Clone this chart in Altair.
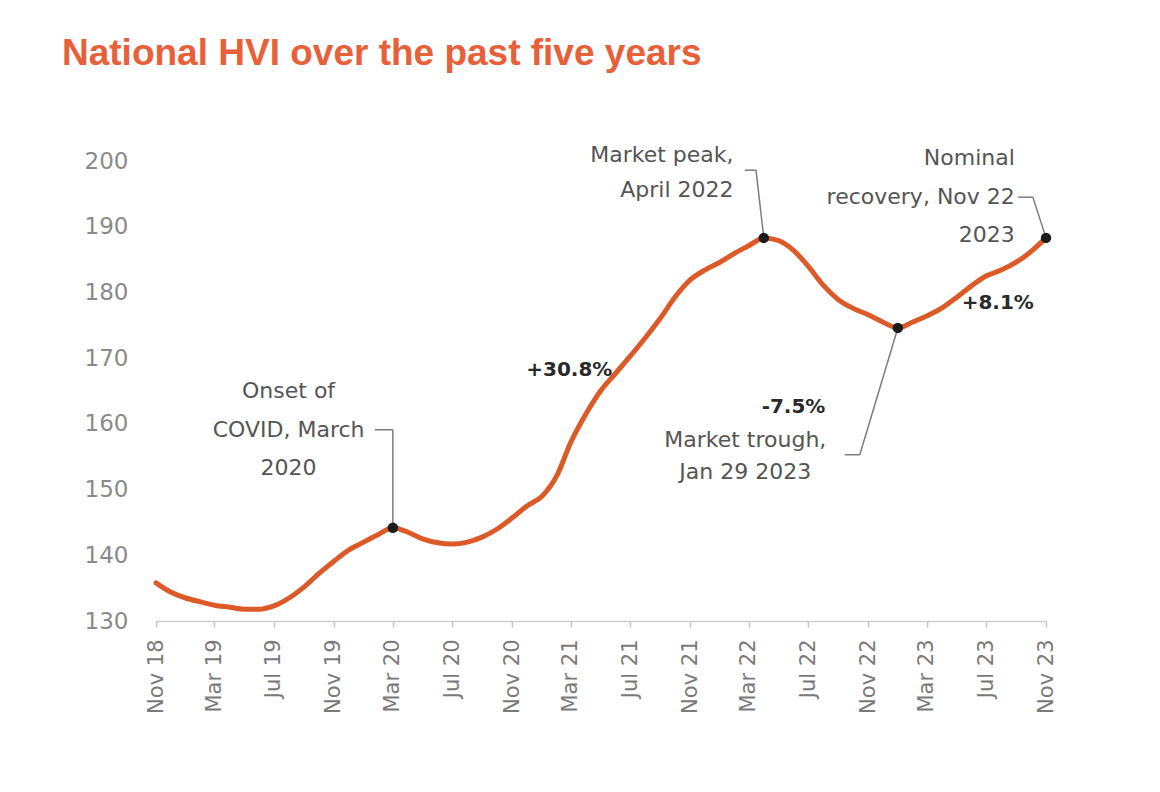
import altair as alt
import pandas as pd

TITLE = "National HVI over the past five years"

# Monthly index values, Nov 2018 - Nov 2023
MONTHS = pd.date_range("2018-11-01", "2023-11-01", freq="MS").strftime("%Y-%m-%dT00:00:00").tolist()
HVI = [135.8, 134.4, 133.5, 132.9, 132.4, 132.1, 131.8, 131.8, 132.3, 133.5, 135.2, 137.2, 139.1,
       140.8, 142.0, 143.2, 144.2, 143.5, 142.5, 141.9, 141.7, 142.0, 142.8, 144.0, 145.7,
       147.5, 149.0, 152.2, 157.2, 161.5, 165.0, 167.7, 170.3, 173.1, 176.1, 179.3, 181.9,
       183.4, 184.6, 186.0, 187.1, 188.3, 187.9, 186.4, 184.0, 181.1, 178.9, 177.6, 176.6,
       175.5, 174.6, 175.5, 176.4, 177.6, 179.2, 181.0, 182.5, 183.4, 184.6, 186.2, 188.3]

Y_TICKS = [130, 140, 150, 160, 170, 180, 190, 200]
X_TICK_LABELS = ["Nov 18", "Mar 19", "Jul 19", "Nov 19", "Mar 20", "Jul 20", "Nov 20", "Mar 21",
                 "Jul 21", "Nov 21", "Mar 22", "Jul 22", "Nov 22", "Mar 23", "Jul 23", "Nov 23"]

MARKED_MONTHS = ["2020-03", "2022-04", "2023-01", "2023-11"]

# Annotation lines (anchored in data coordinates)
NOTE_CENTER_TEXT = ["Onset of", "COVID, March", "2020", "Market trough,", "Jan 29 2023"]
NOTE_CENTER_X = ["2019-07-31", "2019-07-31", "2019-07-31", "2022-02-22", "2022-02-22"]
NOTE_CENTER_Y = [165.0, 159.1, 153.3, 157.5, 152.7]

NOTE_RIGHT_TEXT = ["Market peak,", "April 2022", "Nominal", "recovery, Nov 22", "2023"]
NOTE_RIGHT_X = ["2022-01-29", "2022-01-29", "2023-08-29", "2023-08-29", "2023-08-29"]
NOTE_RIGHT_Y = [200.9, 195.6, 200.5, 194.5, 188.7]

CHANGE_TEXT = ["+30.8%", "-7.5%", "+8.1%"]
CHANGE_X = ["2021-02-26", "2022-06-01", "2023-07-25"]
CHANGE_Y = [168.2, 162.6, 178.4]

LEADER_X = ["2020-01-24", "2020-03-01", "2022-02-21", "2022-03-16", "2023-09-05", "2023-10-05", "2022-09-14", "2022-10-15"]
LEADER_X2 = ["2020-03-01", "2020-03-01", "2022-03-16", "2022-04-01", "2023-10-05", "2023-11-01", "2022-10-15", "2023-01-01"]
LEADER_Y = [159.1, 159.1, 198.6, 198.6, 194.5, 194.5, 155.3, 155.3]
LEADER_Y2 = [159.1, 144.2, 198.6, 188.3, 194.5, 188.3, 155.3, 174.6]

ORANGE = "#DC5A27"
TITLE_COLOR = "#E8603A"
FONT = "DejaVu Sans"

T = "T00:00:00"
df = pd.DataFrame({"month": MONTHS, "hvi": HVI})
df["key"] = df["month"].str[:7]
dots_df = df[df["key"].isin(MARKED_MONTHS)]

center_df = pd.DataFrame({"month": [d + T for d in NOTE_CENTER_X], "hvi": NOTE_CENTER_Y, "label": NOTE_CENTER_TEXT})
right_df = pd.DataFrame({"month": [d + T for d in NOTE_RIGHT_X], "hvi": NOTE_RIGHT_Y, "label": NOTE_RIGHT_TEXT})
change_df = pd.DataFrame({"month": [d + T for d in CHANGE_X], "hvi": CHANGE_Y, "label": CHANGE_TEXT})
leader_df = pd.DataFrame({"month": [d + T for d in LEADER_X], "month2": [d + T for d in LEADER_X2],
                          "hvi": LEADER_Y, "hvi2": LEADER_Y2})

tick_dates = [pd.to_datetime(l, format="%b %y") for l in X_TICK_LABELS]
tick_vals = [alt.DateTime(year=d.year, month=d.month, date=1) for d in tick_dates]
x_dom = [alt.DateTime(year=2018, month=11, date=1), alt.DateTime(year=2023, month=11, date=1)]

x_scale = alt.Scale(domain=x_dom)
y_scale = alt.Scale(domain=[130, 200], nice=False, zero=False)

x_axis = alt.Axis(values=tick_vals, format="%b %y", labelAngle=270, labelFont=FONT, labelFontSize=21,
                  labelColor="#7a7a7a", labelPadding=12, tickSize=6, tickColor="#c4c4c4", tickWidth=1.5,
                  domainColor="#cfcfcf", domainWidth=1.5, grid=False, title=None)
y_axis = alt.Axis(values=Y_TICKS, labelFont=FONT, labelFontSize=23, labelColor="#8a8a8a", labelPadding=28,
                  ticks=False, domain=False, grid=False, title=None)

X = alt.X("month:T", scale=x_scale, axis=x_axis, title=None)
Y = alt.Y("hvi:Q", scale=y_scale, axis=y_axis, title=None)
Xs = alt.X("month:T", scale=x_scale, title=None)
Ys = alt.Y("hvi:Q", scale=y_scale, title=None)

line = alt.Chart(df).mark_line(color=ORANGE, strokeWidth=5, interpolate="monotone",
                               strokeCap="round").encode(x=X, y=Y)

leaders = alt.Chart(leader_df).mark_rule(color="#7d7d7d", strokeWidth=1.5).encode(
    x=Xs, y=Ys, x2="month2:T", y2="hvi2:Q")

dots = alt.Chart(dots_df).mark_circle(color="#1c1c1c", size=110, opacity=1).encode(x=Xs, y=Ys)

center_txt = alt.Chart(center_df).mark_text(align="center", baseline="middle", font=FONT, fontSize=22,
                                            color="#555555").encode(x=Xs, y=Ys, text="label:N")
right_txt = alt.Chart(right_df).mark_text(align="right", baseline="middle", font=FONT, fontSize=22,
                                          color="#555555").encode(x=Xs, y=Ys, text="label:N")
change_txt = alt.Chart(change_df).mark_text(align="center", baseline="middle", font=FONT, fontSize=20,
                                            fontWeight="bold", color="#2a2a2a").encode(x=Xs, y=Ys, text="label:N")

chart = alt.layer(line, leaders, dots, center_txt, right_txt, change_txt).properties(
    width=890,
    height=460,
    background="white",
    title=alt.TitleParams(TITLE, anchor="start", frame="group", font="Liberation Sans", fontSize=37,
                          fontWeight="bold", color=TITLE_COLOR, dx=-94, offset=42, baseline="alphabetic"),
    autosize=alt.AutoSizeParams(type="none"),
    padding={"left": 148, "top": 153, "right": 90, "bottom": 120},
).configure_view(strokeWidth=0, stroke=None)

chart.save("out.html", embed_options={"renderer": "svg", "actions": False})
